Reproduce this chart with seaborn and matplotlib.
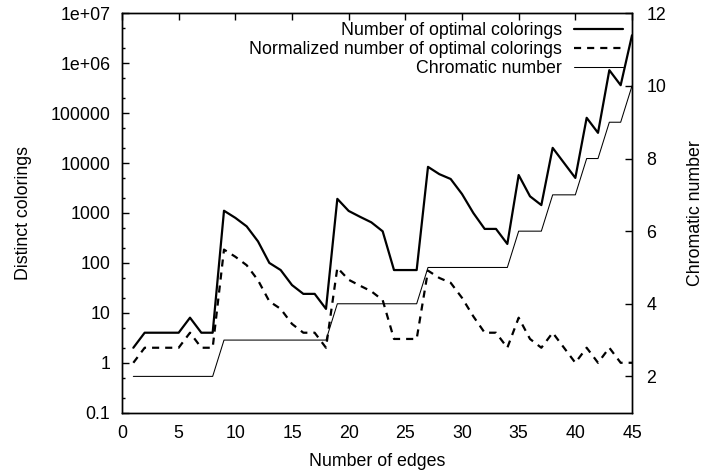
import matplotlib
matplotlib.use("Agg")
import matplotlib.pyplot as plt
import matplotlib.ticker as mticker
import pandas as pd
import seaborn as sns

# values
edges = list(range(1, 46))
optimal = [2, 4, 4, 4, 4, 8, 4, 4,
           1110, 800, 540, 270, 100, 72, 36, 24, 24, 12,
           1920, 1100, 840, 650, 430, 72, 72, 72,
           8400, 6000, 4800, 2400, 1000, 480, 480, 240,
           5760, 2160, 1440,
           20160, 10080, 5040,
           80640, 40320,
           725760, 362880,
           3628800]
normalized = [1, 2, 2, 2, 2, 4, 2, 2,
              185, 133, 90, 45, 17, 12, 6, 4, 4, 2,
              80, 46, 35, 27, 18, 3, 3, 3,
              70, 50, 40, 20, 8.5, 4, 4, 2,
              8, 3, 2,
              4, 2, 1,
              2, 1,
              2, 1,
              1]
chromatic = [2] * 8 + [3] * 10 + [4] * 8 + [5] * 8 + [6] * 3 + [7] * 3 \
    + [8] * 2 + [9] * 2 + [10]

x_ticks = list(range(0, 46, 5))
left_ticks = [0.1, 1, 10, 100, 1000, 10000, 100000, 1e6, 1e7]
left_tick_labels = ["0.1", "1", "10", "100", "1000", "10000", "100000",
                    "1e+06", "1e+07"]
right_ticks = [2, 4, 6, 8, 10, 12]
series_labels = ["Number of optimal colorings",
                 "Normalized number of optimal colorings",
                 "Chromatic number"]

df = pd.DataFrame({"edges": edges, "optimal": optimal,
                   "normalized": normalized, "chromatic": chromatic})

sns.set_style("white")
plt.rcParams["font.family"] = ["Liberation Sans", "DejaVu Sans"]
plt.rcParams.update({
    "font.size": 12.8,
    "axes.edgecolor": "black",
    "axes.linewidth": 1.0,
    "xtick.direction": "in",
    "ytick.direction": "in",
    "xtick.color": "black",
    "ytick.color": "black",
    "text.color": "black",
    "axes.labelcolor": "black",
})

fig = plt.figure(figsize=(7.04, 4.73), dpi=100)
ax = fig.add_axes([122 / 704, 1 - 412.7 / 473, 510 / 704, 399.4 / 473])
ax2 = ax.twinx()

sns.lineplot(data=df, x="edges", y="optimal", ax=ax, color="black",
             linewidth=1.6, label=series_labels[0], legend=False)
sns.lineplot(data=df, x="edges", y="normalized", ax=ax, color="black",
             linewidth=1.6, linestyle=(0, (3.2, 2.7)),
             label=series_labels[1], legend=False)
sns.lineplot(data=df, x="edges", y="chromatic", ax=ax2, color="black",
             linewidth=0.75, label=series_labels[2], legend=False)

ax.set_yscale("log")
ax.set_xlim(0, 45)
ax.set_ylim(0.1, 1e7)
ax.yaxis.set_major_locator(mticker.FixedLocator(left_ticks))
ax.yaxis.set_major_formatter(mticker.FixedFormatter(left_tick_labels))
ax.yaxis.set_minor_locator(mticker.LogLocator(base=10, subs=(2, 5),
                                              numticks=20))
ax.yaxis.set_minor_formatter(mticker.NullFormatter())
ax.set_xticks(x_ticks)
ax.tick_params(axis="x", which="major", top=True, length=5, width=1,
               pad=9, labelsize=12.8)
ax.tick_params(axis="y", which="major", length=5, width=1, pad=8.5,
               labelsize=12.8)
ax.tick_params(axis="y", which="minor", length=2.5, width=1)

ax2.set_ylim(1, 12)
ax2.set_yticks(right_ticks)
ax2.tick_params(axis="y", length=5, width=1, pad=10.5, labelsize=12.8)

ax.set_xlabel("Number of edges", fontsize=12.8, labelpad=8)
ax.set_ylabel("Distinct colorings", fontsize=12.8, labelpad=13)
ax2.set_ylabel("Chromatic number", fontsize=12.8, labelpad=15)

for spine in ax2.spines.values():
    spine.set_linewidth(1.0)

handles = ax.get_lines() + ax2.get_lines()
ax2.legend(handles, series_labels, loc="upper right", frameon=False,
           markerfirst=False, fontsize=12.8, handlelength=2.75,
           handletextpad=0.7, labelspacing=0.1, borderaxespad=0.15,
           borderpad=0.35)

fig.savefig("out.png", dpi=100)
